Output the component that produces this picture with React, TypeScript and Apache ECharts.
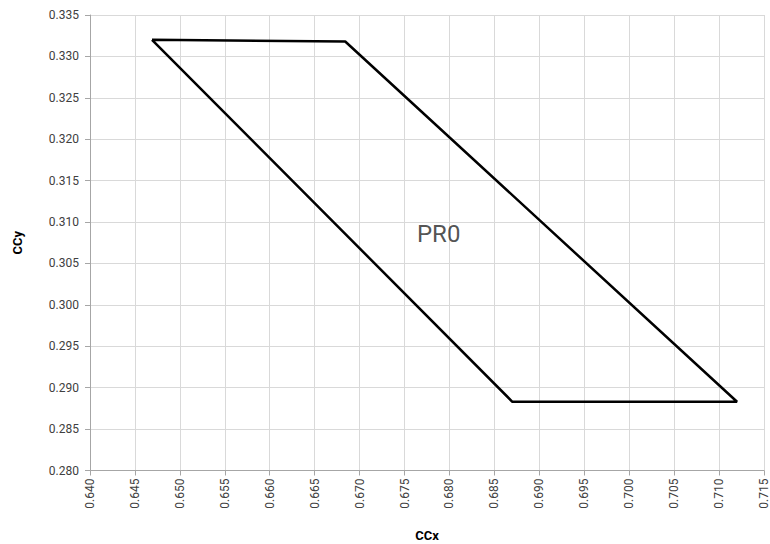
import React, { useEffect, useRef } from "react";
import * as echarts from "echarts";

const ccx: number[] = [0.6469, 0.6684, 0.7120, 0.6870, 0.6469];
const ccy: number[] = [0.3320, 0.3318, 0.2883, 0.2883, 0.3320];
const labelNames: string[] = ["PR0"];
const labelX: number[] = [0.6788];
const labelY: number[] = [0.3086];

export default function App() {
  const ref = useRef<HTMLDivElement>(null);
  useEffect(() => {
    if (!ref.current) return;
    const chart = echarts.init(ref.current, undefined, { renderer: "svg" });
    const font = "Roboto, 'Liberation Sans', Arial, sans-serif";
    chart.setOption({
      animation: false,
      textStyle: { fontFamily: font },
      grid: {
        left: 90,
        right: 6,
        top: 15,
        bottom: 73.5,
        containLabel: false,
        outerBoundsMode: "none",
      },
      xAxis: {
        type: "value",
        min: 0.64,
        max: 0.715,
        interval: 0.005,
        name: "CCx",
        nameLocation: "middle",
        nameGap: 58,
        nameTextStyle: { fontWeight: "bold", fontSize: 13, color: "#000", fontFamily: font },
        axisLine: { show: true, lineStyle: { color: "#a6a6a6", width: 1 } },
        axisTick: { show: true, length: 5, lineStyle: { color: "#a6a6a6" } },
        axisLabel: {
          rotate: 90,
          fontSize: 12,
          color: "#404040",
          margin: 8,
          fontFamily: font,
          formatter: (v: number) => v.toFixed(3),
        },
        splitLine: { show: true, lineStyle: { color: "#d9d9d9", width: 1 } },
      },
      yAxis: {
        type: "value",
        min: 0.28,
        max: 0.335,
        interval: 0.005,
        name: "CCy",
        nameLocation: "middle",
        nameGap: 66,
        nameTextStyle: { fontWeight: "bold", fontSize: 13, color: "#000", fontFamily: font },
        axisLine: { show: true, lineStyle: { color: "#a6a6a6", width: 1 } },
        axisTick: { show: true, length: 5, lineStyle: { color: "#a6a6a6" } },
        axisLabel: {
          fontSize: 12,
          color: "#404040",
          margin: 11,
          fontFamily: font,
          formatter: (v: number) => v.toFixed(3),
        },
        splitLine: { show: true, lineStyle: { color: "#d9d9d9", width: 1 } },
      },
      series: [
        {
          type: "line",
          data: ccx.map((x, i) => [x, ccy[i]]),
          showSymbol: false,
          symbol: "none",
          lineStyle: { color: "#000", width: 2.5 },
          itemStyle: { color: "#000" },
        },
        {
          type: "scatter",
          data: labelX.map((x, i) => ({ value: [x, labelY[i]], name: labelNames[i] })),
          symbolSize: 0,
          label: {
            show: true,
            position: "inside",
            formatter: (p: any) => p.name,
            fontSize: 24,
            color: "#262626",
            fontFamily: font,
          },
        },
      ],
    });
    return () => chart.dispose();
  }, []);
  return (
    <div
      ref={ref}
      style={{ position: "absolute", left: 0, top: 0, width: 770, height: 544 }}
    />
  );
}
